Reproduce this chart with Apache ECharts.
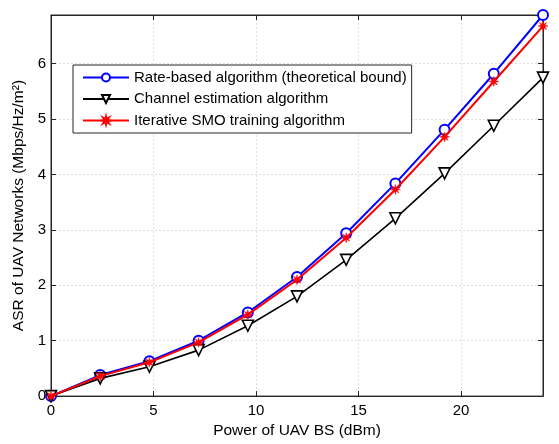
<!DOCTYPE html>
<html>
<head>
<meta charset="utf-8">
<script src="https://cdn.jsdelivr.net/npm/echarts@6/dist/echarts.min.js"></script>
<style>html,body{margin:0;padding:0;background:#fff}#c{width:559px;height:444px}</style>
</head>
<body>
<div id="c"></div>
<script>
var powerDbm = [0, 2.4, 4.8, 7.2, 9.6, 12, 14.4, 16.8, 19.2, 21.6, 24];
var rateBased = [0, 0.38, 0.63, 1.00, 1.51, 2.15, 2.94, 3.84, 4.81, 5.82, 6.88];
var channelEst = [0, 0.32, 0.53, 0.83, 1.27, 1.80, 2.46, 3.21, 4.02, 4.88, 5.75];
var iterSMO = [0, 0.36, 0.61, 0.97, 1.47, 2.10, 2.86, 3.73, 4.68, 5.68, 6.68];
var seriesNames = ['Rate-based algorithm (theoretical bound)', 'Channel estimation algorithm', 'Iterative SMO training algorithm'];
var xTicks = [0, 5, 10, 15, 20];
var yTicks = [0, 1, 2, 3, 4, 5, 6];

function pairs(xs, ys) { return xs.map(function (x, i) { return [x, ys[i]]; }); }

var FONT = 'Liberation Sans, Arial, sans-serif';
var AX = '#262626';
var star = 'path://M20,10L13.7,11.53L17.07,17.07L11.53,13.7L10,20L8.47,13.7L2.93,17.07L6.3,11.53L0,10L6.3,8.47L2.93,2.93L8.47,6.3L10,0L11.53,6.3L17.07,2.93L13.7,8.47Z';

var chart = echarts.init(document.getElementById('c'), null, { renderer: 'canvas' });
var commonAxis = {
  axisLine: { show: true, onZero: false, lineStyle: { color: AX, width: 1 } },
  axisTick: { show: true, inside: true, length: 5, lineStyle: { color: AX } }
};
chart.setOption({
  animation: false,
  backgroundColor: '#fff',
  grid: { left: 51, right: 16, top: 15, bottom: 41, show: true, borderColor: AX, borderWidth: 1 },
  legend: {
    orient: 'vertical', left: 73, top: 65,
    backgroundColor: '#fff', borderColor: AX, borderWidth: 1,
    padding: [5, 5, 5, 9], itemGap: 6.5,
    itemWidth: 46, itemHeight: 10,
    textStyle: { fontFamily: FONT, fontSize: 15, color: '#000' },
    data: seriesNames
  },
  xAxis: [
    Object.assign({}, commonAxis, {
      type: 'value', min: 0, max: 24, interval: 5,
      name: 'Power of UAV BS (dBm)', nameLocation: 'middle', nameGap: 23,
      nameTextStyle: { fontFamily: FONT, fontSize: 15.5, color: '#000' },
      axisLabel: { fontFamily: FONT, fontSize: 15, color: '#000', margin: 7, showMaxLabel: false },
      splitLine: { show: true, lineStyle: { color: '#e0e0e0', type: [2, 2], width: 1 } }
    }),
    Object.assign({}, commonAxis, {
      type: 'value', min: 0, max: 24, interval: 5, position: 'top',
      axisLabel: { show: false }, splitLine: { show: false }
    })
  ],
  yAxis: [
    Object.assign({}, commonAxis, {
      type: 'value', min: 0, max: 6.88, interval: 1,
      name: 'ASR of UAV Networks (Mbps/Hz/m²)', nameLocation: 'middle', nameGap: 19, nameRotate: 90,
      nameTextStyle: { fontFamily: FONT, fontSize: 15.5, color: '#000' },
      axisLabel: { fontFamily: FONT, fontSize: 15, color: '#000', margin: 5, showMaxLabel: false },
      splitLine: { show: true, lineStyle: { color: '#e0e0e0', type: [2, 2], width: 1 } }
    }),
    Object.assign({}, commonAxis, {
      type: 'value', min: 0, max: 6.88, interval: 1, position: 'right',
      axisLabel: { show: false }, splitLine: { show: false }
    })
  ],
  series: [
    {
      name: seriesNames[0], type: 'line', data: pairs(powerDbm, rateBased),
      lineStyle: { color: '#0000ff', width: 2 },
      itemStyle: { color: '#fff', borderColor: '#0000ff', borderWidth: 2 },
      symbol: 'circle', symbolSize: 10, showAllSymbol: true, z: 2
    },
    {
      name: seriesNames[1], type: 'line', data: pairs(powerDbm, channelEst),
      lineStyle: { color: '#000', width: 1.6 },
      itemStyle: { color: '#fff', borderColor: '#000', borderWidth: 1.6 },
      symbol: 'triangle', symbolRotate: 180, symbolSize: 11, showAllSymbol: true, z: 3
    },
    {
      name: seriesNames[2], type: 'line', data: pairs(powerDbm, iterSMO),
      lineStyle: { color: '#ff0000', width: 2 },
      itemStyle: { color: '#ff0000', borderColor: '#ff0000', borderWidth: 0.5 },
      symbol: star, symbolSize: 10, showAllSymbol: true, z: 4
    }
  ]
});
</script>
</body>
</html>
